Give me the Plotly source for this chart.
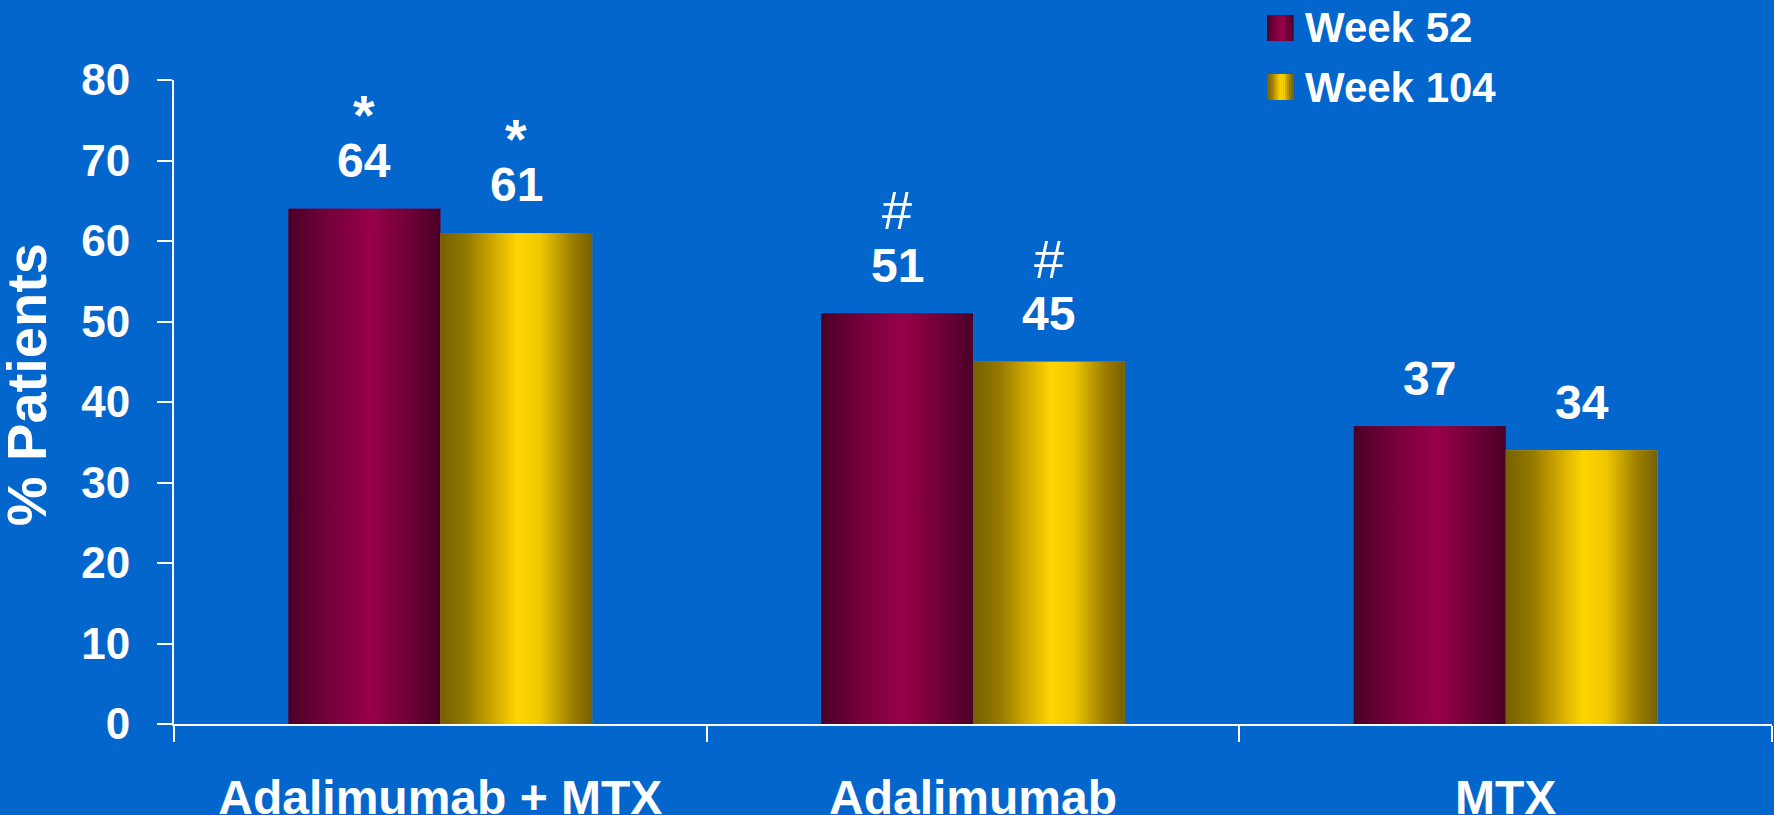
import plotly.graph_objects as go
from plotly.colors import sample_colorscale

# ---- data -----------------------------------------------------------------
categories = ["Adalimumab + MTX", "Adalimumab", "MTX"]
series_names = ["Week 52", "Week 104"]
week52 = [64, 51, 37]
week104 = [61, 45, 34]
week52_marks = ["*", "#", ""]
week104_marks = ["*", "#", ""]
y_ticks = [0, 10, 20, 30, 40, 50, 60, 70, 80]

# ---- style ----------------------------------------------------------------
BG = "#0366cc"
FONT = "Liberation Sans, Arial, sans-serif"
WHITE = "#ffffff"
MAROON_SCALE = [
    [0.0, "rgb(74,0,38)"], [0.27, "rgb(118,0,60)"], [0.54, "rgb(152,0,74)"],
    [0.8, "rgb(110,0,55)"], [1.0, "rgb(74,0,38)"],
]
GOLD_SCALE = [
    [0.0, "rgb(118,96,0)"], [0.18, "rgb(150,122,0)"], [0.34, "rgb(205,166,0)"],
    [0.51, "rgb(255,212,0)"], [0.66, "rgb(240,200,0)"], [0.86, "rgb(160,128,0)"],
    [1.0, "rgb(118,96,0)"],
]
BAR_W = 0.285

x_idx = list(range(len(categories)))
series = [
    (series_names[0], week52, week52_marks, MAROON_SCALE, "rgb(140,0,68)", -BAR_W),
    (series_names[1], week104, week104_marks, GOLD_SCALE, "rgb(230,190,0)", 0.0),
]

fig = go.Figure()
annotations = []

for name, vals, marks, scale, mid, offset in series:
    # plain bars carrying the values
    fig.add_trace(go.Bar(
        x=x_idx, y=vals, width=BAR_W, offset=offset, name=name,
        marker=dict(color=mid, line=dict(width=0)), showlegend=False,
    ))
    # cylinder-style shading laid over each bar
    for xi, v in zip(x_idx, vals):
        x0 = xi + offset
        x1 = x0 + BAR_W
        fig.add_trace(go.Scatter(
            x=[x0, x0, x1, x1, x0], y=[0, v, v, 0, 0],
            mode="lines", fill="toself", line=dict(width=0),
            fillgradient=dict(type="horizontal", colorscale=scale),
            showlegend=False, hoverinfo="skip",
        ))
    # value labels and significance marks
    for xi, v, m in zip(x_idx, vals, marks):
        xc = xi + offset + BAR_W / 2
        annotations.append(dict(
            x=xc, y=v, xref="x", yref="y", text=str(v), showarrow=False,
            yanchor="middle", yshift=48,
            font=dict(family=FONT, size=48, color=WHITE, weight="bold"),
        ))
        if m == "*":
            annotations.append(dict(
                x=xc, y=v, xref="x", yref="y", text=m, showarrow=False,
                yanchor="middle", yshift=94,
                font=dict(family=FONT, size=56, color=WHITE, weight="bold"),
            ))
        elif m:
            annotations.append(dict(
                x=xc, y=v, xref="x", yref="y", text=m, showarrow=False,
                yanchor="middle", yshift=103,
                font=dict(family=FONT, size=54, color=WHITE, weight="normal"),
            ))

# ---- legend (top right) ---------------------------------------------------
shapes = []
legend_rows = [(series_names[0], MAROON_SCALE, 1.1009, 1.0606),
               (series_names[1], GOLD_SCALE, 1.0093, 0.9689)]
sw_x0, sw_x1, n_strips = 0.684, 0.7003, 13
for label, scale, y_top, y_bot in legend_rows:
    cols = sample_colorscale(scale, [(i + 0.5) / n_strips for i in range(n_strips)])
    step = (sw_x1 - sw_x0) / n_strips
    for i, c in enumerate(cols):
        shapes.append(dict(
            type="rect", xref="paper", yref="paper",
            x0=sw_x0 + i * step, x1=sw_x0 + (i + 1) * step + 0.0004,
            y0=y_bot, y1=y_top, fillcolor=c, line=dict(width=0), layer="above",
        ))
    annotations.append(dict(
        x=0.7065, y=(y_top + y_bot) / 2, xref="paper", yref="paper",
        text=label, showarrow=False, xanchor="left", yanchor="middle",
        font=dict(family=FONT, size=42, color=WHITE, weight="bold"),
    ))

# ---- y-axis title ---------------------------------------------------------
annotations.append(dict(
    x=0, y=0.526, xref="paper", yref="paper", xshift=-148,
    text="% Patients", textangle=-90, showarrow=False,
    xanchor="center", yanchor="middle",
    font=dict(family=FONT, size=56, color=WHITE, weight="bold"),
))

fig.update_layout(
    template="none",
    width=1774, height=815,
    margin=dict(l=174, r=2, t=80, b=91, autoexpand=False),
    paper_bgcolor=BG, plot_bgcolor=BG,
    barmode="overlay",
    showlegend=False,
    annotations=annotations,
    shapes=shapes,
    font=dict(family=FONT, color=WHITE),
    xaxis=dict(
        range=[-0.5, len(categories) - 0.5],
        tickmode="array", tickvals=x_idx, ticktext=categories,
        ticks="", showgrid=False, zeroline=False,
        showline=True, linecolor=WHITE, linewidth=2,
        tickfont=dict(family=FONT, size=48, color=WHITE, weight="bold"),
        ticklabelstandoff=30,
        minor=dict(
            tickmode="array", tickvals=[i - 0.5 for i in range(len(categories) + 1)],
            ticks="outside", ticklen=16, tickwidth=2, tickcolor=WHITE, showgrid=False,
        ),
        automargin=False,
    ),
    yaxis=dict(
        range=[0, 80], tickmode="array", tickvals=y_ticks,
        ticks="outside", ticklen=15, tickwidth=2, tickcolor=WHITE,
        showgrid=False, zeroline=False,
        showline=True, linecolor=WHITE, linewidth=2,
        tickfont=dict(family=FONT, size=44, color=WHITE, weight="bold"),
        ticklabelstandoff=18,
        automargin=False,
    ),
)

fig.write_html("out.html")
